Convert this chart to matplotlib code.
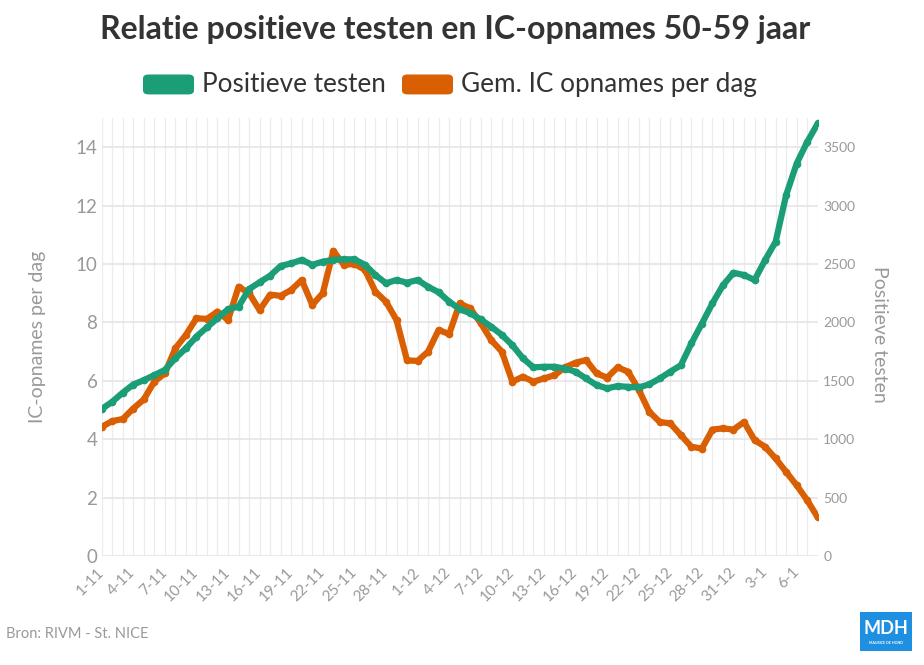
#!/usr/bin/env python3
"""Relatie positieve testen en IC-opnames 50-59 jaar (dual axis line chart)."""

import matplotlib

matplotlib.use("Agg")
import matplotlib.pyplot as plt  # noqa: E402
import pandas as pd  # noqa: E402
from matplotlib.patches import FancyBboxPatch, Rectangle  # noqa: E402

plt.rcParams["font.family"] = ["Lato", "DejaVu Sans"]

# ---- data -------------------------------------------------------------------
dates = pd.date_range("2020-11-01", "2021-01-08", freq="D")
date_labels = [f"{d.day}-{d.month}" for d in dates]

positieve_testen = [
    1258, 1320, 1398, 1468, 1505, 1548, 1593, 1693, 1778, 1878,
    1958, 2035, 2113, 2135, 2285, 2343, 2400, 2483, 2505, 2535,
    2493, 2520, 2535, 2540, 2540, 2493, 2405, 2335, 2363, 2340,
    2363, 2305, 2258, 2178, 2113, 2078, 2025, 1963, 1893, 1805,
    1693, 1615, 1620, 1620, 1605, 1578, 1520, 1463, 1435, 1455,
    1448, 1443, 1470, 1520, 1578, 1633, 1820, 1990, 2163, 2318,
    2425, 2405, 2363, 2533, 2690, 3090, 3360, 3545, 3703,
]

ic_opnames = [
    4.42, 4.62, 4.69, 5.05, 5.36, 5.97, 6.25, 7.11, 7.57, 8.14,
    8.12, 8.37, 8.08, 9.22, 9.00, 8.42, 8.95, 8.91, 9.11, 9.45,
    8.60, 9.00, 10.45, 9.97, 10.00, 9.80, 9.05, 8.71, 8.08, 6.70,
    6.68, 7.00, 7.74, 7.60, 8.65, 8.48, 7.97, 7.39, 7.00, 5.97,
    6.14, 5.97, 6.08, 6.19, 6.46, 6.62, 6.71, 6.25, 6.11, 6.46,
    6.31, 5.70, 4.94, 4.59, 4.54, 4.14, 3.74, 3.68, 4.33, 4.37,
    4.33, 4.59, 3.97, 3.74, 3.34, 2.88, 2.42, 1.91, 1.32,
]

left_ticks = [0, 2, 4, 6, 8, 10, 12, 14]
right_ticks = [0, 500, 1000, 1500, 2000, 2500, 3000, 3500]

GREEN = "#1b9e77"
ORANGE = "#d95f02"
GREY = "#999999"

# ---- figure -----------------------------------------------------------------
fig = plt.figure(figsize=(9.24, 6.65), dpi=100)
ax = fig.add_axes([0.110, 0.1639, 0.775, 0.6587])
ax2 = ax.twinx()

x = list(range(len(dates)))
ax.plot(x, ic_opnames, color=ORANGE, linewidth=4.5, marker="o", markersize=4.5,
        solid_capstyle="round", solid_joinstyle="round", zorder=3)
ax2.plot(x, positieve_testen, color=GREEN, linewidth=4.5, marker="o", markersize=4.5,
         solid_capstyle="round", solid_joinstyle="round", zorder=3)

ax.set_xlim(0, len(dates) - 1)
ax.set_ylim(0, 15)
ax2.set_ylim(0, 3750)

# daily vertical grid, horizontal grid on left ticks
for xi in x:
    ax.axvline(xi, color="#ececec", linewidth=0.9, zorder=0)
ax.set_yticks(left_ticks)
ax.yaxis.grid(True, color="#e3e3e3", linewidth=1.1, zorder=0)
ax.set_axisbelow(True)

ax.set_xticks(x[::3])
ax.set_xticklabels(date_labels[::3], rotation=45, ha="right", va="center",
                   rotation_mode="anchor", fontsize=11, color=GREY)
ax.tick_params(axis="x", length=0, pad=10)
ax.tick_params(axis="y", length=0, pad=3, labelsize=13.5, labelcolor=GREY)

ax2.set_yticks(right_ticks)
ax2.tick_params(axis="y", length=0, pad=4, labelsize=10, labelcolor=GREY)

for a in (ax, ax2):
    for sp in a.spines.values():
        sp.set_visible(False)

fig.text(0.041, 0.493, "IC-opnames per dag", rotation=90, ha="center", va="center",
         fontsize=14, color=GREY)
fig.text(0.952, 0.497, "Positieve testen", rotation=270, ha="center", va="center",
         fontsize=14, color=GREY)

# ---- title & legend ---------------------------------------------------------
fig.text(0.493, 0.955, "Relatie positieve testen en IC-opnames 50-59 jaar",
         ha="center", va="center", fontsize=23, fontweight="bold", color="#333333")

leg_y = 0.873
for x0, color, label in [(143, GREEN, "Positieve testen"),
                         (402, ORANGE, "Gem. IC opnames per dag")]:
    fig.patches.append(FancyBboxPatch(
        (x0 / 924, leg_y - 0.015), 51 / 924, 0.030,
        boxstyle="round,pad=0,rounding_size=0.006", transform=fig.transFigure,
        facecolor=color, edgecolor="none"))
    fig.text((x0 + 59) / 924, leg_y, label, ha="left", va="center",
             fontsize=18.8, color="#333333")

# ---- footer -----------------------------------------------------------------
fig.text(0.006, 0.047, "Bron: RIVM - St. NICE", ha="left", va="center",
         fontsize=10.5, color=GREY)
fig.patches.append(Rectangle((860 / 924, 1 - 651 / 665), 52 / 924, 39 / 665,
                             transform=fig.transFigure, facecolor="#1e8fe1",
                             edgecolor="none"))
fig.text(886 / 924, 1 - 628 / 665, "MDH", ha="center", va="center",
         fontsize=13, fontweight="bold", color="white")
fig.text(886 / 924, 1 - 643 / 665, "MAURICE DE HOND", ha="center", va="center",
         fontsize=2.6, fontweight="bold", color="white")

fig.savefig("out.png", dpi=100)
plt.close(fig)
